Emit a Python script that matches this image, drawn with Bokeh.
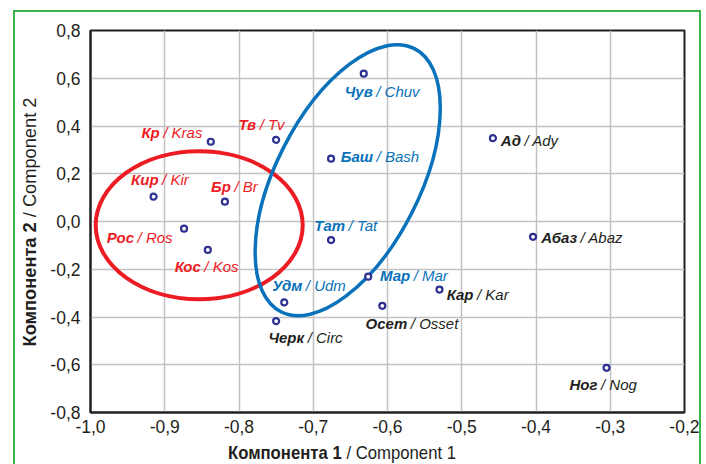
import math
from bokeh.plotting import figure
from bokeh.layouts import row, column
from bokeh.models import Range1d, FixedTicker, CustomJSTickFormatter, ColumnDataSource, Div
from bokeh.core.properties import value
from bokeh.embed import file_html
from bokeh.resources import INLINE

# ---------------- data ----------------
names_ru = ["Кр", "Тв", "Кир", "Бр", "Рос", "Кос",
            "Чув", "Баш", "Тат", "Мар", "Удм",
            "Черк", "Осет", "Кар", "Ад", "Абаз", "Ног"]
names_en = ["Kras", "Tv", "Kir", "Br", "Ros", "Kos",
            "Chuv", "Bash", "Tat", "Mar", "Udm",
            "Circ", "Osset", "Kar", "Ady", "Abaz", "Nog"]
component1 = [-0.838, -0.750, -0.915, -0.819, -0.874, -0.842,
              -0.632, -0.676, -0.676, -0.626, -0.739,
              -0.750, -0.607, -0.530, -0.458, -0.404, -0.305]
component2 = [0.334, 0.342, 0.104, 0.083, -0.030, -0.119,
              0.619, 0.263, -0.078, -0.231, -0.339,
              -0.417, -0.353, -0.285, 0.349, -0.064, -0.613]
groups = ["red"] * 6 + ["blue"] * 5 + ["black"] * 6

x_ticks = [-1.0, -0.9, -0.8, -0.7, -0.6, -0.5, -0.4, -0.3, -0.2]
y_ticks = [-0.8, -0.6, -0.4, -0.2, 0.0, 0.2, 0.4, 0.6, 0.8]

x_title_bold, x_title_reg = "Компонента 1", "/ Component 1"
y_title_bold, y_title_reg = "Компонента 2", "/ Component 2"

# ellipse centres (data) for the two clusters
red_centre = (-0.8536, -0.0155)
blue_centre = (-0.6536, 0.173)

# ---------------- layout / style ----------------
RED = "#ed1c24"
BLUE = "#0a72ba"
BLACK = "#231f20"
NAVY = "#2e3192"
GREEN = "#39b54a"
group_colors = {"red": RED, "blue": BLUE, "black": BLACK}

# label offsets in pixels: end of bold part relative to point, baseline (down +)
label_dx = [-51, -20, 5, 6, -50, -7, 9, 42, 14, 42, 18, 28, 25, 34, 28, 44, -9]
label_dy = [-4, -10, -12, -10, 14, 22, 23, 3, -9, 4, -11, 22, 23, 10, 8, 6, 22]
DY_FIX = -5.5

FONT = "Liberation Sans"
TITLE_FONT = "Liberation Sans Narrow"

YDIV_W = 30
CANVAS_H = 434
XDIV_H = 18

p = figure(
    frame_width=594, frame_height=382,
    min_border_left=45, min_border_right=15, min_border_top=18,
    min_border_bottom=CANVAS_H - 18 - 382,
    x_range=Range1d(-1.0, -0.2), y_range=Range1d(-0.8, 0.8),
    output_backend="svg", toolbar_location=None, margin=0,
)
p.background_fill_color = "white"
p.border_fill_color = "white"
p.outline_line_color = BLACK
p.outline_line_width = 2

fmt = CustomJSTickFormatter(code="""
    if (Math.abs(tick) < 1e-9) { return "0,0"; }
    return tick.toFixed(1).replace(".", ",");
""")
for ax, ticks in ((p.xaxis[0], x_ticks), (p.yaxis[0], y_ticks)):
    ax.ticker = FixedTicker(ticks=ticks)
    ax.formatter = fmt
    ax.major_tick_in = 0
    ax.major_tick_out = 0
    ax.minor_tick_in = 0
    ax.minor_tick_out = 0
    ax.axis_line_color = BLACK
    ax.axis_line_width = 2
    ax.major_label_text_font = FONT
    ax.major_label_text_font_size = "17.5px"
    ax.major_label_text_color = BLACK
p.xaxis.major_label_standoff = 7
p.yaxis.major_label_standoff = 10

p.grid.grid_line_color = "#c2c2c2"
p.grid.grid_line_width = 1.5

# cluster ellipses
p.ellipse(x=[red_centre[0]], y=[red_centre[1]], width=207, height=148,
          width_units="screen", height_units="screen", angle=0,
          fill_color=None, line_color=RED, line_width=4)
p.ellipse(x=[blue_centre[0]], y=[blue_centre[1]], width=295, height=144,
          width_units="screen", height_units="screen", angle=math.radians(63.1),
          fill_color=None, line_color=BLUE, line_width=3.5)

src = ColumnDataSource(dict(
    x=component1, y=component2,
    ru=names_ru, en=["/ " + e for e in names_en],
    color=[group_colors[g] for g in groups],
    dx=label_dx, dx2=[d + 3.5 for d in label_dx], dy=[d + DY_FIX for d in label_dy],
))

p.scatter(x="x", y="y", source=src, marker="circle", size=6,
          fill_color="white", line_color=NAVY, line_width=2.2)

p.text(x="x", y="y", text="ru", source=src, x_offset="dx", y_offset="dy",
       text_align="right", text_baseline="alphabetic",
       text_font=value(FONT), text_font_style="bold italic",
       text_font_size="15px", text_color="color")
p.text(x="x", y="y", text="en", source=src, x_offset="dx2", y_offset="dy",
       text_align="left", text_baseline="alphabetic",
       text_font=value(FONT), text_font_style="italic",
       text_font_size="15px", text_color="color")

# ---------------- axis titles as HTML (bold Russian + regular English) ----------------
title_style = (f"font-family:'{TITLE_FONT}', 'Liberation Sans', sans-serif; font-size:19px; "
               f"color:{BLACK}; white-space:nowrap;")

W_TOTAL = YDIV_W + 45 + 594 + 15
x_html = (
    f'<div style="position:relative; width:{W_TOTAL}px; height:{XDIV_H}px; overflow:visible;">'
    f'<div style="position:absolute; left:-15px; top:-3px; width:{W_TOTAL}px; '
    f'text-align:center; line-height:19px; transform:scaleX(0.88); {title_style}">'
    f'<b>{x_title_bold}</b> {x_title_reg}</div></div>'
)
xdiv = Div(text=x_html, width=W_TOTAL, height=XDIV_H, margin=0)

LEN = CANVAS_H
y_html = (
    f'<div style="position:relative; width:{YDIV_W}px; height:{CANVAS_H}px; overflow:visible;">'
    f'<div style="position:absolute; left:{YDIV_W // 2 - LEN // 2}px; top:{CANVAS_H // 2 - 22}px; '
    f'width:{LEN}px; height:30px; line-height:30px; text-align:center; '
    f'transform:rotate(-90deg) scaleX(0.96); {title_style}">'
    f'<b>{y_title_bold}</b> {y_title_reg}</div></div>'
)
ydiv = Div(text=y_html, width=YDIV_W, height=CANVAS_H, margin=0)

layout = column(row(ydiv, p, margin=0, spacing=0), xdiv, margin=0, spacing=0)
layout.styles = {
    "margin-left": "13px", "margin-top": "10px",
    "border-left": f"2px solid {GREEN}",
    "border-top": f"2px solid {GREEN}",
    "border-right": f"2px solid {GREEN}",
    "background-color": "white",
}

open("out.html", "w").write(file_html(layout, INLINE))
